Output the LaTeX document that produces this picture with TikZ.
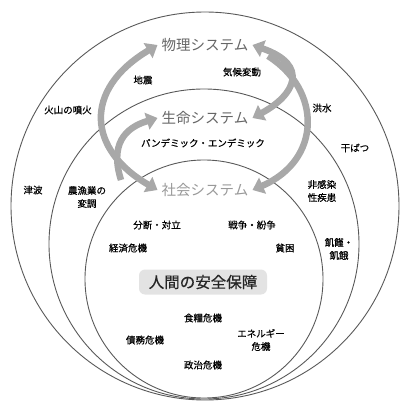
\documentclass[tikz,border=0pt]{standalone}
\usepackage{fontspec}
\setmainfont{Noto Sans CJK JP}
\newfontfamily\lblfont[FakeBold=0.5]{Noto Sans CJK JP}
\usetikzlibrary{arrows.meta}
\definecolor{ringcol}{gray}{0.35}
\definecolor{arrcol}{gray}{0.66}
\definecolor{arrlight}{gray}{0.78}
\definecolor{titcol}{gray}{0.40}
\definecolor{soccol}{gray}{0.60}
\definecolor{boxcol}{gray}{0.89}
\begin{document}
\begin{tikzpicture}[x=1pt,y=-1pt,
  ring/.style={draw=ringcol,line width=0.9pt},
  lbl/.style={font=\lblfont\fontsize{9.5}{13}\selectfont,text=black,inner sep=1pt,align=center},
  title/.style={font=\fontsize{14.5}{16}\selectfont,text=titcol,inner sep=4pt},
  hsbox/.style={font=\lblfont\fontsize{15.5}{17}\selectfont,text=black!85,fill=boxcol,rounded corners=6pt,minimum width=128pt,minimum height=25pt},
  arr/.style={draw=arrcol,line width=6.5pt},
  tip/.tip={Triangle[width=17pt,length=11pt]}
]
\useasboundingbox (0,0) rectangle (408,407);
% circles
\draw[ring] (205,206) circle[radius=194pt];
\draw[ring] (204,244) circle[radius=155pt];
\draw[ring] (204,279) circle[radius=119pt];
% titles
\node[title] (phys) at (205,45) {物理システム};
\node[title] (life) at (205,118) {生命システム};
\node[title,text=soccol] (soc) at (205,190) {社会システム};
\node[hsbox] (hs) at (203,282) {人間の安全保障};
% arrow tails
\coordinate (t1) at (121,180);
\coordinate (t2) at (268,56);
% arrows
\draw[arr,-tip] (t1) .. controls (110,145) and (124,128) .. (life.west);
\draw[arr,tip-tip] (phys.west) .. controls (82,90) and (88,150) .. (soc.west);
\draw[arr,-tip] (t2) .. controls (322,90) and (322,160) .. (soc.east);
\draw[arr,tip-tip] (phys.east) .. controls (310,65) and (295,95) .. (life.east);
% labels
\node[lbl] (l1) at (143,80) {地震};
\node[lbl] (l2) at (242,72) {気候変動};
\node[lbl] (l3) at (322,108) {洪水};
\node[lbl] (l4) at (68,110) {火山の噴火};
\node[lbl] (l5) at (355,148) {干ばつ};
\node[lbl] (l6) at (203,143) {パンデミック・エンデミック};
\node[lbl] (l7) at (33,190) {津波};
\node[lbl] (l8) at (87,197) {農漁業の\\変調};
\node[lbl] (l9) at (322,191) {非感染\\性疾患};
\node[lbl] (l10) at (157,225) {分断・対立};
\node[lbl] (l11) at (252,225) {戦争・紛争};
\node[lbl] (l12) at (128,248) {経済危機};
\node[lbl] (l13) at (285,248) {貧困};
\node[lbl] (l14) at (339,249) {飢饉・\\飢餓};
\node[lbl] (l15) at (203,318) {食糧危機};
\node[lbl] (l16) at (261,340) {エネルギー\\危機};
\node[lbl] (l17) at (145,340) {債務危機};
\node[lbl] (l18) at (203,365) {政治危機};
\end{tikzpicture}
\end{document}
